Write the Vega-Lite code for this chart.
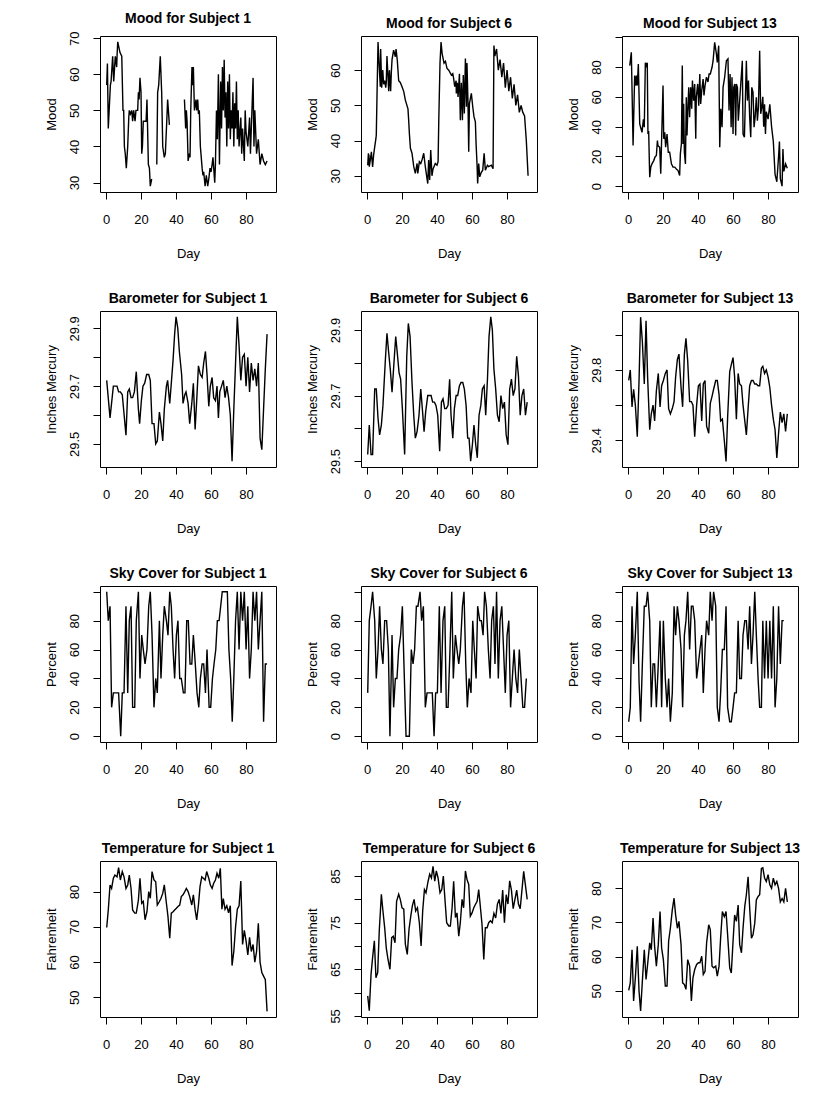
{
"$schema": "https://vega.github.io/schema/vega-lite/v6.json",
"padding": {"left": 44, "top": 11, "right": 5, "bottom": 5},
"background": "white",
"config": {
 "font": "Liberation Sans",
 "view": {"stroke": "black", "strokeWidth": 1},
 "axis": {"domain": false, "grid": false, "tickColor": "black", "tickSize": 7, "tickWidth": 1, "labelColor": "black", "labelFontSize": 13, "labelFont": "Liberation Sans", "titleFont": "Liberation Sans", "titleFontSize": 13, "titleFontWeight": "normal", "titleColor": "black", "labelFlush": false, "labelOverlap": false},
 "axisX": {"labelPadding": 14, "titlePadding": 21},
 "axisY": {"labelAngle": -90, "labelAlign": "center", "labelBaseline": "bottom", "labelPadding": 12, "titlePadding": 10},
 "title": {"fontSize": 14, "fontWeight": "bold", "font": "Liberation Sans", "color": "black", "offset": 5, "anchor": "middle"},
 "line": {"color": "black", "strokeWidth": 1.4, "invalid": "break-paths-show-domains"}
},
"columns": 3,
"spacing": {"row": 30, "column": 28},
"datasets": {
"m1": [{"d":0.4,"v":57},{"d":0.8,"v":63},{"d":1.3,"v":45},{"d":2.5,"v":57},{"d":2.9,"v":58},{"d":3.8,"v":65},{"d":4.4,"v":58},{"d":5.3,"v":65},{"d":6.1,"v":62},{"d":6.3,"v":65},{"d":6.7,"v":69},{"d":8,"v":66},{"d":9,"v":65},{"d":9.7,"v":50},{"d":10.1,"v":50},{"d":10.5,"v":40},{"d":11,"v":38},{"d":11.6,"v":34},{"d":12.4,"v":40},{"d":13,"v":48},{"d":13.3,"v":50},{"d":13.9,"v":49},{"d":14.7,"v":50},{"d":15.2,"v":47},{"d":15.8,"v":50},{"d":16.6,"v":47},{"d":17.1,"v":50},{"d":18.1,"v":50},{"d":18.5,"v":55},{"d":18.9,"v":53},{"d":19.4,"v":59},{"d":20,"v":55},{"d":20.4,"v":38},{"d":20.8,"v":40},{"d":21.3,"v":47},{"d":22.9,"v":47},{"d":23.4,"v":53},{"d":24.2,"v":35},{"d":24.8,"v":34},{"d":25.3,"v":29},{"d":26.1,"v":31},{"d":27.5,"v":null},{"d":29,"v":35},{"d":29.5,"v":55},{"d":30.1,"v":57},{"d":31,"v":65},{"d":31.8,"v":55},{"d":32.4,"v":40},{"d":33.3,"v":37},{"d":33.9,"v":38},{"d":34.7,"v":47},{"d":35.2,"v":53},{"d":36.2,"v":46},{"d":40,"v":null},{"d":44.8,"v":53},{"d":45.5,"v":45},{"d":45.9,"v":50},{"d":46.3,"v":47},{"d":46.9,"v":36},{"d":47.6,"v":38},{"d":48,"v":37},{"d":48.4,"v":50},{"d":49.1,"v":62},{"d":49.5,"v":57},{"d":49.9,"v":62},{"d":50.5,"v":50},{"d":51.4,"v":53},{"d":51.8,"v":50},{"d":52.4,"v":53},{"d":52.8,"v":49},{"d":53.3,"v":50},{"d":53.9,"v":40},{"d":54.9,"v":34},{"d":55.4,"v":32},{"d":55.8,"v":33},{"d":56.6,"v":29},{"d":57.3,"v":32},{"d":58.1,"v":29},{"d":58.7,"v":31},{"d":59.4,"v":34},{"d":60,"v":33},{"d":60.6,"v":35},{"d":61.1,"v":37},{"d":62.1,"v":30},{"d":62.5,"v":35},{"d":63.1,"v":50},{"d":63.6,"v":42},{"d":64.2,"v":60},{"d":64.8,"v":35},{"d":65.5,"v":58},{"d":66,"v":45},{"d":66.5,"v":62},{"d":67,"v":50},{"d":67.5,"v":64},{"d":68,"v":48},{"d":68.5,"v":55},{"d":69,"v":40},{"d":69.5,"v":58},{"d":70,"v":45},{"d":70.5,"v":60},{"d":71,"v":42},{"d":71.5,"v":50},{"d":72,"v":45},{"d":72.5,"v":55},{"d":73,"v":40},{"d":73.5,"v":52},{"d":74,"v":45},{"d":74.5,"v":58},{"d":75,"v":42},{"d":75.5,"v":50},{"d":76,"v":40},{"d":77,"v":48},{"d":77.5,"v":38},{"d":78,"v":45},{"d":79,"v":36},{"d":79.5,"v":50},{"d":80,"v":44},{"d":81,"v":40},{"d":82,"v":48},{"d":82.5,"v":38},{"d":83,"v":45},{"d":84,"v":59},{"d":84.5,"v":40},{"d":85,"v":50},{"d":86,"v":38},{"d":87,"v":42},{"d":88,"v":35},{"d":89,"v":38},{"d":90,"v":36},{"d":91,"v":35},{"d":92,"v":36}],
"m6": [{"d":0.4,"v":33},{"d":0.8,"v":36.4},{"d":1,"v":33},{"d":1.1,"v":36},{"d":1.3,"v":32.6},{"d":1.9,"v":34.5},{"d":2.5,"v":36.8},{"d":3.2,"v":32.5},{"d":3.8,"v":36},{"d":4.4,"v":38.2},{"d":5.1,"v":40.6},{"d":5.3,"v":41.6},{"d":5.7,"v":52.4},{"d":6.3,"v":68},{"d":6.7,"v":63.8},{"d":7.6,"v":55.3},{"d":7.8,"v":66},{"d":8.4,"v":55},{"d":9,"v":60},{"d":9.5,"v":56},{"d":10.1,"v":57},{"d":10.7,"v":55},{"d":11,"v":56.5},{"d":11.4,"v":64},{"d":12.4,"v":54},{"d":12.8,"v":60},{"d":13.5,"v":54},{"d":13.9,"v":59.5},{"d":14.3,"v":63},{"d":15.2,"v":65.7},{"d":16.2,"v":63.8},{"d":16.6,"v":66},{"d":17.3,"v":62.8},{"d":18.1,"v":57},{"d":19,"v":56.5},{"d":20,"v":55.3},{"d":21,"v":53.9},{"d":21.9,"v":51.5},{"d":23.4,"v":49},{"d":23.8,"v":45.8},{"d":24.2,"v":42},{"d":24.8,"v":37.8},{"d":25.7,"v":36.4},{"d":26.7,"v":32.6},{"d":27.6,"v":30.7},{"d":28.6,"v":33.5},{"d":29,"v":30.7},{"d":29.9,"v":34},{"d":30.7,"v":33.5},{"d":31.4,"v":34.5},{"d":32.4,"v":36.4},{"d":33.3,"v":32.6},{"d":34.7,"v":27.8},{"d":35.2,"v":34.5},{"d":35.8,"v":28.8},{"d":36.4,"v":37.3},{"d":37.1,"v":30},{"d":37.7,"v":31.9},{"d":39,"v":33.5},{"d":40,"v":33},{"d":40.6,"v":34},{"d":41,"v":45.8},{"d":41.7,"v":62},{"d":42.3,"v":68},{"d":42.9,"v":64.7},{"d":44,"v":62},{"d":44.8,"v":62.5},{"d":45.7,"v":60.5},{"d":46.7,"v":60},{"d":48.2,"v":58.6},{"d":49,"v":59},{"d":49.5,"v":57.6},{"d":50.1,"v":55.3},{"d":50.9,"v":57},{"d":51,"v":53.4},{"d":51.6,"v":56.4},{"d":52,"v":52.4},{"d":52.8,"v":59},{"d":53.3,"v":45.8},{"d":53.9,"v":56.4},{"d":54.5,"v":45.8},{"d":55,"v":58.6},{"d":55.6,"v":47.7},{"d":56.2,"v":63.3},{"d":56.8,"v":49.6},{"d":57.1,"v":62},{"d":57.7,"v":50.5},{"d":58.1,"v":36.8},{"d":58.5,"v":50.5},{"d":59.6,"v":53.4},{"d":60.4,"v":49.6},{"d":61.1,"v":46.8},{"d":61.9,"v":45.3},{"d":62.3,"v":39.2},{"d":62.9,"v":32.6},{"d":63.2,"v":27.8},{"d":63.8,"v":33.5},{"d":64.4,"v":29.7},{"d":65.3,"v":31},{"d":66.1,"v":31.6},{"d":66.9,"v":36.4},{"d":67.6,"v":31.6},{"d":68.8,"v":33},{"d":69.5,"v":32.6},{"d":71,"v":33},{"d":72,"v":32},{"d":72.5,"v":67},{"d":73,"v":64},{"d":74,"v":66},{"d":75,"v":60},{"d":76,"v":63},{"d":77,"v":58},{"d":78,"v":62},{"d":79,"v":55},{"d":80,"v":60},{"d":81,"v":54},{"d":82,"v":58},{"d":83,"v":52},{"d":84,"v":56},{"d":85,"v":50},{"d":86,"v":53},{"d":87,"v":48},{"d":88,"v":50},{"d":89,"v":48},{"d":90,"v":47},{"d":91,"v":40},{"d":92,"v":30}],
"m13": [{"d":1,"v":81},{"d":1.9,"v":90},{"d":2.9,"v":27.3},{"d":3.8,"v":74.3},{"d":4.4,"v":67.6},{"d":4.8,"v":74.3},{"d":5.3,"v":67.6},{"d":5.9,"v":82},{"d":6.7,"v":41.8},{"d":7.2,"v":39.6},{"d":8,"v":36.2},{"d":8.8,"v":45},{"d":9.3,"v":39.6},{"d":9.9,"v":83},{"d":10.5,"v":81},{"d":11,"v":83},{"d":11.4,"v":35},{"d":11.8,"v":37},{"d":12.4,"v":6},{"d":13,"v":12.8},{"d":13.7,"v":15},{"d":14.7,"v":17.2},{"d":15.4,"v":19.5},{"d":16.2,"v":20.6},{"d":16.8,"v":30.6},{"d":17.1,"v":27.3},{"d":18.1,"v":26.2},{"d":18.7,"v":8.3},{"d":20,"v":67.6},{"d":20.4,"v":31.8},{"d":21,"v":36.2},{"d":21.5,"v":26.2},{"d":22.3,"v":35},{"d":23,"v":22.8},{"d":23.8,"v":22.8},{"d":24.8,"v":15},{"d":25.7,"v":12.8},{"d":26.7,"v":12.8},{"d":27.6,"v":11.6},{"d":28.6,"v":10.5},{"d":29.5,"v":7.2},{"d":29.9,"v":21.7},{"d":30.5,"v":28.4},{"d":31,"v":81},{"d":31.4,"v":28.4},{"d":31.8,"v":55.3},{"d":32.2,"v":22.8},{"d":32.8,"v":15},{"d":33.3,"v":59.7},{"d":33.7,"v":34},{"d":34.3,"v":55.3},{"d":34.7,"v":66.4},{"d":35.2,"v":46.3},{"d":35.8,"v":66.4},{"d":36.4,"v":52},{"d":36.8,"v":71},{"d":37.5,"v":57.5},{"d":38.1,"v":68.7},{"d":38.7,"v":31.8},{"d":39,"v":59.7},{"d":39.8,"v":68.7},{"d":40.4,"v":54.1},{"d":41,"v":75.4},{"d":41.5,"v":55.3},{"d":42.1,"v":64.2},{"d":42.9,"v":72},{"d":43.4,"v":60.9},{"d":44,"v":67.6},{"d":44.8,"v":73.2},{"d":45.7,"v":70},{"d":46.3,"v":75.4},{"d":47,"v":75.4},{"d":48,"v":79.9},{"d":48.6,"v":84.3},{"d":49.5,"v":96.6},{"d":50.5,"v":88.8},{"d":51,"v":83.2},{"d":51.8,"v":94.4},{"d":52.4,"v":26.2},{"d":53,"v":52},{"d":53.7,"v":39.6},{"d":54.3,"v":66.4},{"d":55.2,"v":73.2},{"d":56.2,"v":84.3},{"d":57.1,"v":85.5},{"d":57.7,"v":50.8},{"d":58.3,"v":75.4},{"d":58.9,"v":39.6},{"d":59.4,"v":73.2},{"d":60,"v":35},{"d":60.4,"v":66.4},{"d":61,"v":68.7},{"d":61.5,"v":34},{"d":61.9,"v":68.7},{"d":62.5,"v":66.4},{"d":63,"v":44},{"d":65.3,"v":84.3},{"d":65.7,"v":35},{"d":66.5,"v":32.9},{"d":67.6,"v":84.3},{"d":68.2,"v":57.5},{"d":68.8,"v":71},{"d":69.5,"v":46.3},{"d":70.1,"v":32.9},{"d":70.7,"v":66.4},{"d":71.4,"v":63},{"d":72,"v":39.6},{"d":72.6,"v":46.3},{"d":73.3,"v":59.7},{"d":73.9,"v":44},{"d":74.5,"v":53},{"d":75.2,"v":91},{"d":75.8,"v":48.6},{"d":76.4,"v":53},{"d":77,"v":60},{"d":77.5,"v":40},{"d":78,"v":55},{"d":78.5,"v":35},{"d":79,"v":50},{"d":80,"v":45},{"d":81,"v":55},{"d":82,"v":40},{"d":83,"v":30},{"d":84,"v":8},{"d":85,"v":3},{"d":86,"v":20},{"d":86.5,"v":30},{"d":87,"v":5},{"d":88,"v":0},{"d":88.5,"v":25},{"d":89,"v":10},{"d":90,"v":15},{"d":91,"v":12}],
"b1": [{"d":0.4,"v":29.72},{"d":2.3,"v":29.59},{"d":4.2,"v":29.70},{"d":5.1,"v":29.70},{"d":6.3,"v":29.70},{"d":7.2,"v":29.68},{"d":8.2,"v":29.68},{"d":9.3,"v":29.67},{"d":11.4,"v":29.53},{"d":12.4,"v":29.68},{"d":13.3,"v":29.69},{"d":14.3,"v":29.66},{"d":15.2,"v":29.66},{"d":16.2,"v":29.68},{"d":17.3,"v":29.75},{"d":18.5,"v":29.62},{"d":19.2,"v":29.57},{"d":20.2,"v":29.65},{"d":21.1,"v":29.70},{"d":22.1,"v":29.71},{"d":23.2,"v":29.74},{"d":24.4,"v":29.74},{"d":25.3,"v":29.72},{"d":26.3,"v":29.57},{"d":27.4,"v":29.57},{"d":28.4,"v":29.50},{"d":29.3,"v":29.51},{"d":30.5,"v":29.61},{"d":31.4,"v":29.57},{"d":32.4,"v":29.51},{"d":33.3,"v":29.62},{"d":34.5,"v":29.70},{"d":35.2,"v":29.72},{"d":36.4,"v":29.64},{"d":37.3,"v":29.71},{"d":38.3,"v":29.79},{"d":39.2,"v":29.88},{"d":40,"v":29.94},{"d":41,"v":29.90},{"d":41.9,"v":29.82},{"d":43.2,"v":29.74},{"d":44,"v":29.64},{"d":45,"v":29.67},{"d":45.7,"v":29.68},{"d":46.9,"v":29.64},{"d":47.8,"v":29.57},{"d":49,"v":29.64},{"d":49.9,"v":29.71},{"d":50.9,"v":29.55},{"d":51.8,"v":29.65},{"d":52.8,"v":29.77},{"d":53.9,"v":29.74},{"d":54.9,"v":29.73},{"d":55.8,"v":29.78},{"d":56.8,"v":29.82},{"d":57.7,"v":29.74},{"d":58.7,"v":29.63},{"d":59.6,"v":29.70},{"d":60.6,"v":29.73},{"d":61.5,"v":29.66},{"d":62.5,"v":29.65},{"d":63.4,"v":29.70},{"d":64.2,"v":29.59},{"d":65,"v":29.68},{"d":66,"v":29.70},{"d":67,"v":29.72},{"d":68,"v":29.66},{"d":69,"v":29.70},{"d":70,"v":29.66},{"d":71,"v":29.60},{"d":72,"v":29.44},{"d":73,"v":29.62},{"d":74,"v":29.78},{"d":75,"v":29.94},{"d":76,"v":29.84},{"d":77,"v":29.72},{"d":78,"v":29.80},{"d":79,"v":29.81},{"d":80,"v":29.70},{"d":81,"v":29.80},{"d":82,"v":29.68},{"d":83,"v":29.78},{"d":84,"v":29.72},{"d":85,"v":29.76},{"d":86,"v":29.70},{"d":87,"v":29.78},{"d":88,"v":29.52},{"d":89,"v":29.48},{"d":90,"v":29.62},{"d":91,"v":29.76},{"d":92,"v":29.88}],
"b6": [{"d":0.4,"v":29.52},{"d":1.3,"v":29.61},{"d":2.3,"v":29.52},{"d":3.2,"v":29.52},{"d":4.4,"v":29.72},{"d":5.3,"v":29.72},{"d":6.3,"v":29.63},{"d":7.2,"v":29.58},{"d":8.2,"v":29.61},{"d":9.1,"v":29.67},{"d":10.5,"v":29.81},{"d":11.4,"v":29.89},{"d":12.4,"v":29.83},{"d":13.3,"v":29.78},{"d":14.3,"v":29.71},{"d":15.4,"v":29.80},{"d":16.4,"v":29.88},{"d":17.3,"v":29.83},{"d":18.3,"v":29.77},{"d":19.2,"v":29.75},{"d":20.2,"v":29.66},{"d":21.5,"v":29.52},{"d":22.7,"v":29.82},{"d":23.6,"v":29.92},{"d":24.6,"v":29.88},{"d":25.7,"v":29.74},{"d":26.7,"v":29.64},{"d":27.6,"v":29.57},{"d":28.6,"v":29.59},{"d":29.7,"v":29.64},{"d":30.7,"v":29.72},{"d":31.6,"v":29.66},{"d":32.6,"v":29.59},{"d":33.5,"v":29.65},{"d":34.7,"v":29.70},{"d":35.8,"v":29.70},{"d":36.6,"v":29.70},{"d":37.5,"v":29.68},{"d":38.5,"v":29.68},{"d":39.4,"v":29.67},{"d":40.4,"v":29.64},{"d":41.5,"v":29.53},{"d":42.5,"v":29.68},{"d":43.4,"v":29.69},{"d":44.4,"v":29.66},{"d":45.3,"v":29.66},{"d":46.3,"v":29.67},{"d":47.2,"v":29.75},{"d":48,"v":29.64},{"d":49,"v":29.57},{"d":49.9,"v":29.66},{"d":50.9,"v":29.70},{"d":51.8,"v":29.70},{"d":52.8,"v":29.73},{"d":53.7,"v":29.74},{"d":54.7,"v":29.74},{"d":55.6,"v":29.72},{"d":56.6,"v":29.67},{"d":57.5,"v":29.57},{"d":58.3,"v":29.57},{"d":59.2,"v":29.50},{"d":60.2,"v":29.55},{"d":61.1,"v":29.61},{"d":62.1,"v":29.55},{"d":63,"v":29.51},{"d":64,"v":29.64},{"d":65,"v":29.67},{"d":65.9,"v":29.72},{"d":66.9,"v":29.73},{"d":67.8,"v":29.64},{"d":68.8,"v":29.75},{"d":69.7,"v":29.88},{"d":70.7,"v":29.94},{"d":71.6,"v":29.90},{"d":72.5,"v":29.78},{"d":73.5,"v":29.72},{"d":74.5,"v":29.64},{"d":75.5,"v":29.62},{"d":76.5,"v":29.70},{"d":77.5,"v":29.66},{"d":78.5,"v":29.68},{"d":79.5,"v":29.58},{"d":80.5,"v":29.55},{"d":81.5,"v":29.72},{"d":82.5,"v":29.75},{"d":83.5,"v":29.70},{"d":84.5,"v":29.72},{"d":85.5,"v":29.82},{"d":86.5,"v":29.76},{"d":87.5,"v":29.64},{"d":88.5,"v":29.70},{"d":89.5,"v":29.72},{"d":90.5,"v":29.64},{"d":91.5,"v":29.68}],
"b13": [{"d":0.4,"v":29.74},{"d":1.3,"v":29.80},{"d":2.3,"v":29.59},{"d":3.2,"v":29.69},{"d":4.2,"v":29.60},{"d":5.3,"v":29.42},{"d":6.3,"v":29.74},{"d":7.2,"v":30.10},{"d":8.2,"v":29.96},{"d":9.3,"v":29.72},{"d":10.3,"v":30.08},{"d":11.2,"v":29.76},{"d":12.4,"v":29.46},{"d":13.3,"v":29.55},{"d":14.3,"v":29.60},{"d":15.2,"v":29.51},{"d":16.2,"v":29.68},{"d":17.3,"v":29.78},{"d":18.3,"v":29.59},{"d":19.2,"v":29.71},{"d":20.2,"v":29.74},{"d":21.3,"v":29.78},{"d":22.3,"v":29.80},{"d":23.2,"v":29.58},{"d":24.2,"v":29.55},{"d":25.3,"v":29.58},{"d":26.3,"v":29.62},{"d":27.2,"v":29.76},{"d":28.2,"v":29.86},{"d":29.1,"v":29.89},{"d":30.3,"v":29.70},{"d":31.2,"v":29.59},{"d":32.2,"v":29.89},{"d":33.1,"v":29.98},{"d":34.1,"v":29.85},{"d":35.2,"v":29.62},{"d":36.2,"v":29.62},{"d":37.1,"v":29.60},{"d":38.1,"v":29.42},{"d":39.2,"v":29.60},{"d":40.2,"v":29.71},{"d":41.1,"v":29.72},{"d":42.1,"v":29.51},{"d":43,"v":29.72},{"d":44,"v":29.74},{"d":44.9,"v":29.48},{"d":46.1,"v":29.44},{"d":47,"v":29.61},{"d":48,"v":29.65},{"d":48.9,"v":29.69},{"d":50.1,"v":29.74},{"d":51,"v":29.74},{"d":52,"v":29.66},{"d":52.9,"v":29.51},{"d":53.9,"v":29.52},{"d":55,"v":29.40},{"d":56,"v":29.28},{"d":56.9,"v":29.53},{"d":58.1,"v":29.79},{"d":59,"v":29.83},{"d":60,"v":29.87},{"d":60.9,"v":29.76},{"d":61.9,"v":29.52},{"d":62.9,"v":29.78},{"d":63.8,"v":29.72},{"d":64.8,"v":29.71},{"d":65.7,"v":29.60},{"d":66.7,"v":29.51},{"d":67.6,"v":29.43},{"d":68.6,"v":29.58},{"d":69.5,"v":29.71},{"d":70.5,"v":29.74},{"d":71.4,"v":29.74},{"d":72.4,"v":29.72},{"d":73.3,"v":29.72},{"d":74.3,"v":29.71},{"d":75.2,"v":29.71},{"d":76.2,"v":29.81},{"d":77,"v":29.82},{"d":78,"v":29.78},{"d":79,"v":29.80},{"d":80,"v":29.76},{"d":81,"v":29.70},{"d":82,"v":29.60},{"d":83,"v":29.52},{"d":84,"v":29.46},{"d":85,"v":29.30},{"d":86,"v":29.44},{"d":87,"v":29.56},{"d":88,"v":29.50},{"d":89,"v":29.55},{"d":90,"v":29.45},{"d":91,"v":29.55}],
"s1": [{"d":0.4,"v":100},{"d":1.3,"v":80},{"d":2.3,"v":90},{"d":3.2,"v":20},{"d":4.2,"v":30},{"d":5.3,"v":30},{"d":6.3,"v":30},{"d":7.2,"v":30},{"d":8.4,"v":0},{"d":9.3,"v":30},{"d":10.3,"v":30},{"d":11.4,"v":90},{"d":12.4,"v":30},{"d":13.3,"v":80},{"d":14.3,"v":90},{"d":15.2,"v":20},{"d":16.4,"v":20},{"d":17.3,"v":80},{"d":18.5,"v":100},{"d":19.4,"v":40},{"d":20.4,"v":70},{"d":21.3,"v":60},{"d":22.3,"v":50},{"d":23.4,"v":60},{"d":24.4,"v":90},{"d":25.3,"v":100},{"d":26.3,"v":70},{"d":27.4,"v":20},{"d":28.4,"v":40},{"d":29.3,"v":30},{"d":30.5,"v":80},{"d":31.4,"v":40},{"d":32.4,"v":70},{"d":33.3,"v":90},{"d":34.5,"v":80},{"d":35.4,"v":70},{"d":36.4,"v":100},{"d":37.3,"v":90},{"d":38.3,"v":60},{"d":39.2,"v":40},{"d":40.2,"v":70},{"d":41.1,"v":80},{"d":42.1,"v":40},{"d":43,"v":40},{"d":44.2,"v":30},{"d":45.1,"v":30},{"d":46.1,"v":80},{"d":47,"v":80},{"d":48,"v":50},{"d":49,"v":50},{"d":49.9,"v":70},{"d":51,"v":50},{"d":52,"v":30},{"d":53,"v":20},{"d":53.9,"v":40},{"d":54.9,"v":50},{"d":55.8,"v":50},{"d":56.8,"v":30},{"d":57.7,"v":60},{"d":58.9,"v":20},{"d":59.8,"v":20},{"d":60.8,"v":40},{"d":61.7,"v":50},{"d":62.7,"v":60},{"d":63.6,"v":80},{"d":64.6,"v":80},{"d":65.5,"v":90},{"d":66.4,"v":100},{"d":67.3,"v":100},{"d":68.3,"v":100},{"d":69.3,"v":100},{"d":70.2,"v":60},{"d":71.2,"v":40},{"d":72.1,"v":10},{"d":73,"v":40},{"d":74,"v":80},{"d":75,"v":100},{"d":76,"v":60},{"d":77,"v":100},{"d":78,"v":80},{"d":79,"v":100},{"d":80,"v":60},{"d":81,"v":90},{"d":82,"v":40},{"d":83,"v":60},{"d":84,"v":100},{"d":85,"v":80},{"d":86,"v":100},{"d":87,"v":60},{"d":88,"v":80},{"d":89,"v":100},{"d":90,"v":10},{"d":91,"v":50},{"d":92,"v":50}],
"s6": [{"d":0.4,"v":30},{"d":1.3,"v":80},{"d":2.3,"v":90},{"d":3.2,"v":100},{"d":4.4,"v":80},{"d":5.3,"v":40},{"d":6.3,"v":60},{"d":7.2,"v":90},{"d":8.2,"v":60},{"d":9.1,"v":50},{"d":10.1,"v":80},{"d":11.2,"v":80},{"d":12.2,"v":60},{"d":13.1,"v":0},{"d":14.3,"v":70},{"d":15.2,"v":20},{"d":16.2,"v":40},{"d":17.1,"v":40},{"d":18.1,"v":60},{"d":19.2,"v":70},{"d":20.2,"v":90},{"d":21.1,"v":50},{"d":22.3,"v":0},{"d":23.2,"v":0},{"d":24.2,"v":0},{"d":25.3,"v":60},{"d":26.3,"v":50},{"d":27.2,"v":60},{"d":28.2,"v":90},{"d":29.1,"v":90},{"d":30.3,"v":100},{"d":31.2,"v":80},{"d":32.2,"v":90},{"d":33.3,"v":20},{"d":34.3,"v":30},{"d":35.2,"v":30},{"d":36.4,"v":30},{"d":37.3,"v":30},{"d":38.3,"v":0},{"d":39.2,"v":30},{"d":40.2,"v":30},{"d":41.3,"v":90},{"d":42.3,"v":30},{"d":43.4,"v":80},{"d":44.4,"v":90},{"d":45.3,"v":20},{"d":46.3,"v":20},{"d":47.4,"v":60},{"d":48.4,"v":100},{"d":49.3,"v":40},{"d":50.5,"v":70},{"d":51.4,"v":60},{"d":52.4,"v":50},{"d":53.3,"v":60},{"d":54.5,"v":90},{"d":55.4,"v":100},{"d":56.4,"v":50},{"d":57.3,"v":20},{"d":58.3,"v":40},{"d":59.4,"v":30},{"d":60.4,"v":80},{"d":61.3,"v":60},{"d":62.3,"v":40},{"d":63.2,"v":90},{"d":64.4,"v":80},{"d":65.3,"v":80},{"d":66.3,"v":70},{"d":67.2,"v":100},{"d":68.2,"v":90},{"d":69.3,"v":60},{"d":70.3,"v":40},{"d":71.2,"v":80},{"d":72.2,"v":90},{"d":73.1,"v":50},{"d":74,"v":100},{"d":75,"v":40},{"d":76,"v":80},{"d":77,"v":90},{"d":78,"v":60},{"d":79,"v":30},{"d":80,"v":70},{"d":81,"v":80},{"d":82,"v":20},{"d":83,"v":40},{"d":84,"v":60},{"d":85,"v":40},{"d":86,"v":30},{"d":87,"v":60},{"d":88,"v":40},{"d":89,"v":20},{"d":90,"v":20},{"d":91,"v":40}],
"s13": [{"d":0.4,"v":10},{"d":1.3,"v":20},{"d":2.3,"v":90},{"d":3.2,"v":50},{"d":4.2,"v":70},{"d":5.3,"v":100},{"d":6.3,"v":38},{"d":7.2,"v":10},{"d":8.2,"v":50},{"d":9.3,"v":90},{"d":10.3,"v":90},{"d":11.2,"v":100},{"d":12.4,"v":80},{"d":13.3,"v":20},{"d":14.3,"v":50},{"d":15.2,"v":50},{"d":16.2,"v":20},{"d":17.3,"v":50},{"d":18.3,"v":80},{"d":19.2,"v":20},{"d":20.2,"v":80},{"d":21.3,"v":40},{"d":22.3,"v":20},{"d":23.2,"v":40},{"d":24.2,"v":10},{"d":25.3,"v":30},{"d":26.3,"v":90},{"d":27.2,"v":70},{"d":28.2,"v":90},{"d":29.1,"v":80},{"d":30.3,"v":60},{"d":31.2,"v":20},{"d":32.2,"v":70},{"d":33.1,"v":80},{"d":34.1,"v":100},{"d":35.2,"v":60},{"d":36.2,"v":90},{"d":37.1,"v":90},{"d":38.1,"v":80},{"d":39.2,"v":40},{"d":40.2,"v":50},{"d":41.1,"v":60},{"d":42.1,"v":70},{"d":43,"v":30},{"d":44,"v":60},{"d":44.9,"v":80},{"d":46.1,"v":70},{"d":47,"v":100},{"d":48,"v":80},{"d":48.9,"v":100},{"d":50.1,"v":90},{"d":51,"v":20},{"d":52,"v":10},{"d":52.9,"v":30},{"d":53.9,"v":60},{"d":55,"v":60},{"d":56,"v":90},{"d":56.9,"v":20},{"d":58.1,"v":10},{"d":59,"v":10},{"d":60,"v":20},{"d":60.9,"v":30},{"d":61.9,"v":30},{"d":62.9,"v":80},{"d":63.8,"v":40},{"d":64.8,"v":40},{"d":65.7,"v":70},{"d":66.7,"v":80},{"d":67.6,"v":80},{"d":68.6,"v":60},{"d":69.5,"v":90},{"d":70.5,"v":50},{"d":71.4,"v":70},{"d":72.4,"v":100},{"d":73.3,"v":70},{"d":74.3,"v":40},{"d":75.2,"v":20},{"d":76.2,"v":20},{"d":77,"v":80},{"d":78,"v":40},{"d":79,"v":80},{"d":80,"v":40},{"d":81,"v":80},{"d":82,"v":40},{"d":83,"v":90},{"d":84,"v":20},{"d":85,"v":40},{"d":86,"v":90},{"d":87,"v":50},{"d":88,"v":80},{"d":89,"v":80}],
"t1": [{"d":0.4,"v":69.8},{"d":1.3,"v":74.8},{"d":2.3,"v":81.9},{"d":3.2,"v":80.9},{"d":4.2,"v":83.8},{"d":5.1,"v":84.7},{"d":6.3,"v":84.2},{"d":7.2,"v":86.8},{"d":8.2,"v":83.3},{"d":9.3,"v":85.7},{"d":10.3,"v":84.2},{"d":11.4,"v":80.9},{"d":12.4,"v":81.9},{"d":13.3,"v":84.7},{"d":14.3,"v":80.9},{"d":15.2,"v":74.8},{"d":16.4,"v":73.9},{"d":17.3,"v":73.9},{"d":18.5,"v":77.6},{"d":19.4,"v":83.8},{"d":20.4,"v":76.7},{"d":21.3,"v":77.2},{"d":22.3,"v":72},{"d":23.4,"v":74.3},{"d":24.4,"v":80},{"d":25.3,"v":78.1},{"d":26.3,"v":85.7},{"d":27.4,"v":83.3},{"d":28.4,"v":82.8},{"d":29.3,"v":76.2},{"d":30.5,"v":77.2},{"d":31.4,"v":78.1},{"d":32.4,"v":79.5},{"d":33.3,"v":81.9},{"d":34.5,"v":76.7},{"d":35.4,"v":72.9},{"d":36.4,"v":66.8},{"d":37.3,"v":73.9},{"d":38.3,"v":74.3},{"d":39.2,"v":74.8},{"d":40.2,"v":75.3},{"d":41.1,"v":75.8},{"d":42.1,"v":76.2},{"d":43,"v":78.6},{"d":44,"v":79.1},{"d":45,"v":80},{"d":45.9,"v":80.9},{"d":46.9,"v":80},{"d":47.8,"v":78.6},{"d":49,"v":76.2},{"d":49.9,"v":79.1},{"d":50.9,"v":74.8},{"d":51.8,"v":72},{"d":52.8,"v":76.2},{"d":53.7,"v":81.4},{"d":54.7,"v":84.2},{"d":55.6,"v":83.8},{"d":56.6,"v":83.3},{"d":57.5,"v":85.7},{"d":58.7,"v":83.8},{"d":59.6,"v":81.9},{"d":60.6,"v":80.9},{"d":61.5,"v":82.4},{"d":62.5,"v":83.3},{"d":63.4,"v":85.2},{"d":64.4,"v":83.8},{"d":65.3,"v":86.6},{"d":66.2,"v":75},{"d":67,"v":78},{"d":68,"v":75},{"d":69,"v":76},{"d":70,"v":74},{"d":71,"v":76},{"d":72,"v":59},{"d":73,"v":63},{"d":74,"v":70},{"d":75,"v":75},{"d":76,"v":76},{"d":77,"v":83},{"d":78,"v":65},{"d":79,"v":69},{"d":80,"v":66},{"d":81,"v":62},{"d":82,"v":67},{"d":83,"v":63},{"d":84,"v":65},{"d":85,"v":60},{"d":86,"v":63},{"d":87,"v":71},{"d":88,"v":60},{"d":89,"v":57},{"d":90,"v":56},{"d":91,"v":55},{"d":92,"v":46}],
"t6": [{"d":0.4,"v":59.3},{"d":1.3,"v":56.1},{"d":2.3,"v":63.9},{"d":3.2,"v":67.5},{"d":4.2,"v":71.1},{"d":5.1,"v":63.2},{"d":6.1,"v":64.3},{"d":7,"v":73.2},{"d":8.2,"v":81.1},{"d":9.1,"v":77.5},{"d":10.1,"v":73.9},{"d":11,"v":69.6},{"d":12,"v":67.1},{"d":13.1,"v":65},{"d":14.1,"v":71.8},{"d":15,"v":72.1},{"d":16,"v":70.7},{"d":16.9,"v":79.6},{"d":18.1,"v":81.1},{"d":19,"v":80},{"d":20,"v":78.2},{"d":21,"v":77.9},{"d":21.9,"v":70.4},{"d":23,"v":68.2},{"d":24,"v":73.6},{"d":25,"v":76.4},{"d":25.9,"v":78.6},{"d":26.9,"v":80},{"d":27.8,"v":77.5},{"d":28.8,"v":78.2},{"d":29.9,"v":75},{"d":30.9,"v":70},{"d":31.8,"v":77.5},{"d":32.8,"v":82.1},{"d":33.7,"v":81.4},{"d":34.9,"v":83.9},{"d":35.8,"v":85.4},{"d":36.8,"v":84.6},{"d":37.7,"v":87.1},{"d":38.7,"v":83.9},{"d":39.6,"v":86.1},{"d":40.6,"v":84.6},{"d":41.7,"v":81.4},{"d":42.7,"v":82.1},{"d":43.6,"v":85},{"d":44.6,"v":79.6},{"d":45.5,"v":75},{"d":46.7,"v":74.3},{"d":47.6,"v":74.3},{"d":48.6,"v":78.2},{"d":49.5,"v":83.9},{"d":50.5,"v":76.1},{"d":51.4,"v":77.1},{"d":52.4,"v":72.1},{"d":53.3,"v":75},{"d":54.3,"v":80},{"d":55.2,"v":78.2},{"d":56.2,"v":86.1},{"d":57.1,"v":84.3},{"d":58.1,"v":83.2},{"d":59,"v":76.4},{"d":60,"v":77.1},{"d":61,"v":78.2},{"d":61.9,"v":78.9},{"d":62.9,"v":79.6},{"d":63.8,"v":82.1},{"d":64.8,"v":78.2},{"d":65.7,"v":74.6},{"d":66.7,"v":67.1},{"d":67.6,"v":73.9},{"d":68.6,"v":73.9},{"d":69.5,"v":75},{"d":70.5,"v":75.4},{"d":71.5,"v":75},{"d":72.5,"v":77},{"d":73.5,"v":76},{"d":74.5,"v":79},{"d":75.5,"v":80},{"d":76.5,"v":77},{"d":77.5,"v":82},{"d":78.5,"v":75},{"d":79.5,"v":81},{"d":80.5,"v":79},{"d":81.5,"v":84},{"d":82.5,"v":82},{"d":83.5,"v":78},{"d":84.5,"v":80},{"d":85.5,"v":82},{"d":86.5,"v":79},{"d":87.5,"v":78},{"d":88.5,"v":82},{"d":89.5,"v":86},{"d":90.5,"v":83},{"d":91.5,"v":80}],
"t13": [{"d":0.4,"v":50.1},{"d":1.3,"v":52.3},{"d":2.3,"v":62},{"d":3.2,"v":47},{"d":4.2,"v":53.8},{"d":5.3,"v":63},{"d":6.3,"v":49.9},{"d":7.2,"v":44.1},{"d":8.2,"v":52.8},{"d":9.3,"v":62},{"d":10.3,"v":53.3},{"d":11.2,"v":57.7},{"d":12.4,"v":64},{"d":13.3,"v":62},{"d":14.3,"v":71.3},{"d":15.2,"v":63},{"d":16.2,"v":57.2},{"d":17.3,"v":63.5},{"d":18.3,"v":73.2},{"d":19.2,"v":62.5},{"d":20.2,"v":59.1},{"d":21.3,"v":51.4},{"d":22.3,"v":51.4},{"d":23.2,"v":64.5},{"d":24.2,"v":68.3},{"d":25.3,"v":73.7},{"d":26.3,"v":77.1},{"d":27.2,"v":72.2},{"d":28.2,"v":68.3},{"d":29.1,"v":70.3},{"d":30.3,"v":63.5},{"d":31.2,"v":52.3},{"d":32.2,"v":51.8},{"d":33.1,"v":50.4},{"d":34.1,"v":59.1},{"d":35.2,"v":57.2},{"d":36.2,"v":47},{"d":37.1,"v":53.8},{"d":38.1,"v":56.2},{"d":39.2,"v":57.7},{"d":40.2,"v":58.2},{"d":41.1,"v":58.2},{"d":42.1,"v":60.1},{"d":43,"v":54.8},{"d":44,"v":55.7},{"d":44.9,"v":64},{"d":46.1,"v":69.3},{"d":47,"v":67.9},{"d":48,"v":57.2},{"d":48.9,"v":56.7},{"d":50.1,"v":57.2},{"d":51,"v":54.3},{"d":52,"v":57.2},{"d":52.9,"v":65.4},{"d":53.9,"v":73.2},{"d":55,"v":71.7},{"d":56,"v":73.2},{"d":56.9,"v":66.4},{"d":58.1,"v":56.7},{"d":59,"v":55.2},{"d":60,"v":64.5},{"d":60.9,"v":72.2},{"d":61.9,"v":70.3},{"d":62.9,"v":75.1},{"d":63.8,"v":63.5},{"d":64.8,"v":61.1},{"d":65.7,"v":68.3},{"d":66.7,"v":74.7},{"d":67.6,"v":78.1},{"d":68.6,"v":83.4},{"d":69.5,"v":74.2},{"d":70.5,"v":65.4},{"d":71.4,"v":66.4},{"d":72.4,"v":69.8},{"d":73.3,"v":76.6},{"d":74.3,"v":77.6},{"d":75.2,"v":78.1},{"d":76.2,"v":85.8},{"d":77,"v":86},{"d":78,"v":83},{"d":79,"v":82},{"d":80,"v":84},{"d":81,"v":81},{"d":82,"v":80},{"d":83,"v":83},{"d":84,"v":81},{"d":85,"v":82},{"d":86,"v":80},{"d":87,"v":76},{"d":88,"v":77},{"d":89,"v":76},{"d":90,"v":80},{"d":91,"v":76}]
},
"concat": [
 {"title": "Mood for Subject 1", "width": 176, "height": 156, "data": {"name": "m1"}, "mark": "line",
  "encoding": {"x": {"field": "d", "type": "quantitative", "scale": {"domain": [-3.43, 97.1], "nice": false, "zero": false}, "axis": {"title": "Day", "values": [0, 20, 40, 60, 80]}},
   "y": {"field": "v", "type": "quantitative", "scale": {"domain": [27.4, 70.6], "nice": false, "zero": false}, "axis": {"title": "Mood", "values": [30, 40, 50, 60, 70]}}}},
 {"title": "Mood for Subject 6", "width": 176, "height": 156, "data": {"name": "m6"}, "mark": "line",
  "encoding": {"x": {"field": "d", "type": "quantitative", "scale": {"domain": [-3.43, 97.1], "nice": false, "zero": false}, "axis": {"title": "Day", "values": [0, 20, 40, 60, 80]}},
   "y": {"field": "v", "type": "quantitative", "scale": {"domain": [25.4, 69.7], "nice": false, "zero": false}, "axis": {"title": "Mood", "values": [30, 40, 50, 60]}}}},
 {"title": "Mood for Subject 13", "width": 176, "height": 156, "data": {"name": "m13"}, "mark": "line",
  "encoding": {"x": {"field": "d", "type": "quantitative", "scale": {"domain": [-3.43, 97.1], "nice": false, "zero": false}, "axis": {"title": "Day", "values": [0, 20, 40, 60, 80]}},
   "y": {"field": "v", "type": "quantitative", "scale": {"domain": [-3.9, 100.9], "nice": false, "zero": false}, "axis": {"title": "Mood", "values": [0, 20, 40, 60, 80, 100], "labelExpr": "datum.value == 100 ? '' : datum.label"}}}},
 {"title": "Barometer for Subject 1", "width": 176, "height": 156, "data": {"name": "b1"}, "mark": "line",
  "encoding": {"x": {"field": "d", "type": "quantitative", "scale": {"domain": [-3.43, 97.1], "nice": false, "zero": false}, "axis": {"title": "Day", "values": [0, 20, 40, 60, 80]}},
   "y": {"field": "v", "type": "quantitative", "scale": {"domain": [29.42, 29.96], "nice": false, "zero": false}, "axis": {"title": "Inches Mercury", "values": [29.5, 29.6, 29.7, 29.8, 29.9], "format": ".1f", "labelExpr": "datum.value == 29.6 || datum.value == 29.8 ? '' : datum.label"}}}},
 {"title": "Barometer for Subject 6", "width": 176, "height": 156, "data": {"name": "b6"}, "mark": "line",
  "encoding": {"x": {"field": "d", "type": "quantitative", "scale": {"domain": [-3.43, 97.1], "nice": false, "zero": false}, "axis": {"title": "Day", "values": [0, 20, 40, 60, 80]}},
   "y": {"field": "v", "type": "quantitative", "scale": {"domain": [29.482, 29.958], "nice": false, "zero": false}, "axis": {"title": "Inches Mercury", "values": [29.5, 29.6, 29.7, 29.8, 29.9], "format": ".1f", "labelExpr": "datum.value == 29.6 || datum.value == 29.8 ? '' : datum.label"}}}},
 {"title": "Barometer for Subject 13", "width": 176, "height": 156, "data": {"name": "b13"}, "mark": "line",
  "encoding": {"x": {"field": "d", "type": "quantitative", "scale": {"domain": [-3.43, 97.1], "nice": false, "zero": false}, "axis": {"title": "Day", "values": [0, 20, 40, 60, 80]}},
   "y": {"field": "v", "type": "quantitative", "scale": {"domain": [29.248, 30.135], "nice": false, "zero": false}, "axis": {"title": "Inches Mercury", "values": [29.4, 29.6, 29.8, 30.0], "format": ".1f", "labelExpr": "datum.value == 29.6 || datum.value == 30 ? '' : datum.label"}}}},
 {"title": "Sky Cover for Subject 1", "width": 176, "height": 156, "data": {"name": "s1"}, "mark": "line",
  "encoding": {"x": {"field": "d", "type": "quantitative", "scale": {"domain": [-3.43, 97.1], "nice": false, "zero": false}, "axis": {"title": "Day", "values": [0, 20, 40, 60, 80]}},
   "y": {"field": "v", "type": "quantitative", "scale": {"domain": [-4, 104], "nice": false, "zero": false}, "axis": {"title": "Percent", "values": [0, 20, 40, 60, 80, 100], "labelExpr": "datum.value == 100 ? '' : datum.label"}}}},
 {"title": "Sky Cover for Subject 6", "width": 176, "height": 156, "data": {"name": "s6"}, "mark": "line",
  "encoding": {"x": {"field": "d", "type": "quantitative", "scale": {"domain": [-3.43, 97.1], "nice": false, "zero": false}, "axis": {"title": "Day", "values": [0, 20, 40, 60, 80]}},
   "y": {"field": "v", "type": "quantitative", "scale": {"domain": [-4, 104], "nice": false, "zero": false}, "axis": {"title": "Percent", "values": [0, 20, 40, 60, 80, 100], "labelExpr": "datum.value == 100 ? '' : datum.label"}}}},
 {"title": "Sky Cover for Subject 13", "width": 176, "height": 156, "data": {"name": "s13"}, "mark": "line",
  "encoding": {"x": {"field": "d", "type": "quantitative", "scale": {"domain": [-3.43, 97.1], "nice": false, "zero": false}, "axis": {"title": "Day", "values": [0, 20, 40, 60, 80]}},
   "y": {"field": "v", "type": "quantitative", "scale": {"domain": [-4, 104], "nice": false, "zero": false}, "axis": {"title": "Percent", "values": [0, 20, 40, 60, 80, 100], "labelExpr": "datum.value == 100 ? '' : datum.label"}}}},
 {"title": "Temperature for Subject 1", "width": 176, "height": 156, "data": {"name": "t1"}, "mark": "line",
  "encoding": {"x": {"field": "d", "type": "quantitative", "scale": {"domain": [-3.43, 97.1], "nice": false, "zero": false}, "axis": {"title": "Day", "values": [0, 20, 40, 60, 80]}},
   "y": {"field": "v", "type": "quantitative", "scale": {"domain": [44.4, 88.7], "nice": false, "zero": false}, "axis": {"title": "Fahrenheit", "values": [50, 60, 70, 80]}}}},
 {"title": "Temperature for Subject 6", "width": 176, "height": 156, "data": {"name": "t6"}, "mark": "line",
  "encoding": {"x": {"field": "d", "type": "quantitative", "scale": {"domain": [-3.43, 97.1], "nice": false, "zero": false}, "axis": {"title": "Day", "values": [0, 20, 40, 60, 80]}},
   "y": {"field": "v", "type": "quantitative", "scale": {"domain": [54.76, 88.24], "nice": false, "zero": false}, "axis": {"title": "Fahrenheit", "values": [55, 60, 65, 70, 75, 80, 85], "labelExpr": "datum.value == 60 || datum.value == 70 || datum.value == 80 ? '' : datum.label"}}}},
 {"title": "Temperature for Subject 13", "width": 176, "height": 156, "data": {"name": "t13"}, "mark": "line",
  "encoding": {"x": {"field": "d", "type": "quantitative", "scale": {"domain": [-3.43, 97.1], "nice": false, "zero": false}, "axis": {"title": "Day", "values": [0, 20, 40, 60, 80]}},
   "y": {"field": "v", "type": "quantitative", "scale": {"domain": [42.3, 88], "nice": false, "zero": false}, "axis": {"title": "Fahrenheit", "values": [50, 60, 70, 80]}}}}
]
}
